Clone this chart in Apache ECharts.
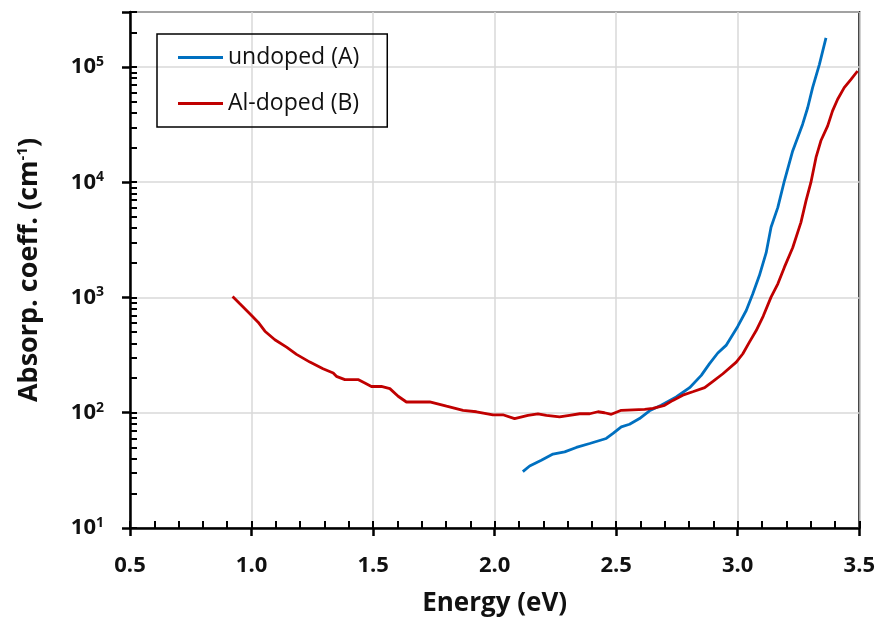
<!DOCTYPE html>
<html>
<head>
<meta charset="utf-8">
<script src="https://cdn.jsdelivr.net/npm/echarts@6/dist/echarts.min.js"></script>
<style>
  html, body { margin: 0; padding: 0; background: #fff; }
  #chart { width: 878px; height: 623px; }
</style>
</head>
<body>
<div id="chart"></div>
<script>
// Absorption coefficient vs. photon energy, log scale
const seriesNames = ['undoped (A)', 'Al-doped (B)'];

const energyA = [2.116, 2.144, 2.192, 2.240, 2.288, 2.336, 2.391, 2.459, 2.487, 2.521,
  2.555, 2.596, 2.637, 2.685, 2.747, 2.802, 2.850, 2.884, 2.918, 2.952,
  3.000, 3.035, 3.062, 3.089, 3.117, 3.137, 3.165, 3.192, 3.226, 3.267,
  3.288, 3.308, 3.336, 3.363];
const alphaA = [30.8, 34.5, 38.8, 43.8, 45.8, 50.0, 54.1, 59.8, 66.1, 75.4,
  79.5, 89.1, 104, 116, 137, 165, 211, 267, 330, 384,
  561, 771, 1076, 1550, 2450, 4070, 6050, 10300, 18700, 31900,
  44500, 66200, 105500, 179000];

const energyB = [0.922, 0.952, 0.993, 1.027, 1.055, 1.096, 1.144, 1.185, 1.240, 1.294,
  1.336, 1.349, 1.384, 1.438, 1.466, 1.493, 1.534, 1.569, 1.603, 1.637,
  1.733, 1.802, 1.870, 1.925, 1.993, 2.034, 2.082, 2.137, 2.178, 2.213,
  2.267, 2.308, 2.350, 2.391, 2.425, 2.452, 2.480, 2.521, 2.617, 2.651,
  2.699, 2.733, 2.774, 2.815, 2.864, 2.898, 2.939, 2.994, 3.021, 3.048,
  3.076, 3.105, 3.137, 3.165, 3.192, 3.226, 3.260, 3.281, 3.301, 3.322,
  3.342, 3.370, 3.390, 3.411, 3.438, 3.466, 3.493];
const alphaB = [1020, 881, 723, 611, 510, 430, 371, 321, 275, 241,
  221, 207, 194, 194, 181, 169, 169, 162, 139, 124,
  124, 114, 105, 102, 96, 96, 89, 95, 98, 95,
  92, 95, 98, 98, 102, 100, 97, 105, 107, 109,
  116, 128, 142, 152, 165, 187, 218, 275, 325, 410,
  517, 690, 1007, 1314, 1833, 2700, 4490, 6918, 9960, 16400,
  22900, 30800, 41600, 52500, 66200, 78200, 92300];

const xMin = 0.5, xMax = 3.5;
const yMin = 10, yMax = 300000;

// tick positions (1..9 x 10^n) expressed in log10 units
const yTickDecades = [1, 2, 3, 4, 5];
const yTickMultipliers = [1, 2, 3, 4, 5, 6, 7, 8, 9];

const zip = (xs, ys) => xs.map((x, i) => [x, ys[i]]);
const logTicks = [];
yTickDecades.forEach(d => yTickMultipliers.forEach(m => {
  const v = Math.log10(m * Math.pow(10, d));
  if (v <= Math.log10(yMax) + 1e-9) logTicks.push(v);
}));

const FONT = '"Open Sans", "Noto Sans", sans-serif';
const INK = '#111';
const chart = echarts.init(document.getElementById('chart'), null, { renderer: 'canvas' });

chart.setOption({
  animation: false,
  backgroundColor: '#fff',
  grid: {
    left: 130, top: 12, width: 730, height: 516,
    show: true, borderColor: '#000', borderWidth: 2, backgroundColor: 'transparent'
  },
  legend: {
    data: seriesNames,
    orient: 'vertical',
    left: 157, top: 34,
    icon: 'rect',
    itemWidth: 45, itemHeight: 3,
    itemGap: 23,
    padding: [12, 28, 12, 21],
    borderColor: '#000', borderWidth: 1.5,
    textStyle: { fontFamily: FONT, fontSize: 23, lineHeight: 23, color: INK }
  },
  xAxis: [{
    type: 'value', min: xMin, max: xMax, interval: 0.5, position: 'bottom',
    name: 'Energy (eV)', nameLocation: 'middle', nameGap: 63, nameMoveOverlap: false,
    nameTextStyle: { fontFamily: FONT, fontSize: 26, fontWeight: 'bold', color: INK },
    axisLine: { show: true, onZero: false, lineStyle: { color: '#000', width: 2.5 } },
    axisTick: { show: true, inside: false, length: 8, lineStyle: { color: '#000', width: 2.5 } },
    axisLabel: {
      margin: 27, fontFamily: FONT, fontSize: 22, fontWeight: 'bold', color: INK,
      formatter: v => v.toFixed(1)
    },
    splitLine: { show: true, lineStyle: { color: '#d9d9d9', width: 1.5 } }
  }, {
    // inward tick marks every 0.1 eV
    type: 'value', min: xMin, max: xMax, interval: 0.1, position: 'bottom',
    axisLine: { show: false, onZero: false },
    axisTick: { show: true, inside: true, length: 7, lineStyle: { color: '#000', width: 2 } },
    axisLabel: { show: false },
    splitLine: { show: false }
  }],
  yAxis: [{
    type: 'log', logBase: 10, min: yMin, max: yMax, position: 'left',
    name: '{t|Absorp. coeff. (cm}{s|-1}{t|)}', nameLocation: 'middle', nameGap: 86, nameMoveOverlap: false,
    nameTextStyle: {
      rich: {
        t: { fontFamily: FONT, fontSize: 27, fontWeight: 'bold', color: INK },
        s: { fontFamily: FONT, fontSize: 15, fontWeight: 'bold', color: INK, verticalAlign: 'bottom', padding: [0, 0, 14, 0] }
      }
    },
    axisLine: { show: true, onZero: false, lineStyle: { color: '#000', width: 2.5 } },
    axisTick: { show: true, inside: false, length: 8, lineStyle: { color: '#000', width: 2.5 } },
    axisLabel: {
      margin: 26,
      formatter: v => {
        const e = Math.round(Math.log10(v));
        if (Math.abs(Math.log10(v) - e) > 1e-6) return '';
        return '{b|10}{s|' + e + '}';
      },
      rich: {
        b: { fontFamily: FONT, fontSize: 22, fontWeight: 'bold', color: INK },
        s: { fontFamily: FONT, fontSize: 14, fontWeight: 'bold', color: INK, verticalAlign: 'bottom', padding: [0, 0, 10, 0] }
      }
    },
    splitLine: { show: true, lineStyle: { color: '#d9d9d9', width: 1.5 } }
  }, {
    // inward tick marks at 1..9 x 10^n, on a log10 value scale
    type: 'value', min: Math.log10(yMin), max: Math.log10(yMax), position: 'left',
    axisLine: { show: false, onZero: false },
    axisTick: { show: true, inside: true, length: 7, customValues: logTicks, lineStyle: { color: '#000', width: 2 } },
    axisLabel: { show: false },
    splitLine: { show: false }
  }],
  series: [{
    name: seriesNames[0], type: 'line', xAxisIndex: 0, yAxisIndex: 0,
    data: zip(energyA, alphaA), showSymbol: false, symbol: 'none',
    lineStyle: { color: '#0070C0', width: 2.8 }, itemStyle: { color: '#0070C0' }
  }, {
    name: seriesNames[1], type: 'line', xAxisIndex: 0, yAxisIndex: 0,
    data: zip(energyB, alphaB), showSymbol: false, symbol: 'none',
    lineStyle: { color: '#C00000', width: 2.8 }, itemStyle: { color: '#C00000' }
  }]
});
</script>
</body>
</html>
